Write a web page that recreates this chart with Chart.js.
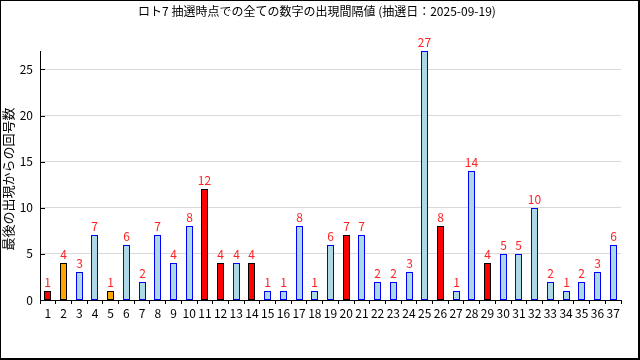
<!DOCTYPE html>
<html><head><meta charset="utf-8">
<script src="https://cdn.jsdelivr.net/npm/chart.js@4/dist/chart.umd.min.js"></script>
<style>html,body{margin:0;padding:0;background:#fff;}canvas{display:block;}</style>
</head><body>
<canvas id="c" width="640" height="360"></canvas>
<script>
const titleText = 'ロト7 抽選時点での全ての数字の出現間隔値 (抽選日：2025-09-19)';
const yTitle = '最後の出現からの回号数';
const categories = ['1','2','3','4','5','6','7','8','9','10','11','12','13','14','15','16','17','18','19','20','21','22','23','24','25','26','27','28','29','30','31','32','33','34','35','36','37'];
const values = [1,4,3,7,1,6,2,7,4,8,12,4,4,4,1,1,8,1,6,7,7,2,2,3,27,8,1,14,4,5,5,10,2,1,2,3,6];
// kind: m = main number drawn, b = bonus number, n = not drawn
const kinds = ['m','b','n','n','b','n','n','n','n','n','m','m','n','m','n','n','n','n','n','m','n','n','n','n','n','m','n','n','m','n','n','n','n','n','n','n','n'];

const fillFor = {m:'#ff0000', b:'#ffa500', n:'#add8e6'};
const edgeFor = {m:'#000000', b:'#000000', n:'#0000ff'};
const FONT = '"Noto Sans CJK JP", "DejaVu Sans", sans-serif';

const decor = {
  id:'decor',
  beforeDatasetsDraw(chart){
    // snap bars to whole pixels so their 1px outlines stay crisp
    chart.getDatasetMeta(0).data.forEach(bar=>{
      bar.x = Math.floor(bar.x) + 0.5;
      bar.width = 7;
      bar.y = Math.round(bar.y);
      bar.base = Math.round(bar.base);
    });
  },
  afterDatasetsDraw(chart){
    const ctx = chart.ctx;
    const meta = chart.getDatasetMeta(0);
    ctx.save();
    ctx.fillStyle = '#ff2222';
    ctx.font = '12px ' + FONT;
    ctx.textAlign = 'center';
    ctx.textBaseline = 'bottom';
    meta.data.forEach((bar,i)=>{
      ctx.fillText(String(values[i]), bar.x, bar.y - 3);
    });
    ctx.restore();
  },
  afterDraw(chart){
    const ctx = chart.ctx;
    const y = chart.scales.y;
    const a = chart.chartArea;
    ctx.save();
    ctx.strokeStyle = '#000';
    ctx.lineWidth = 1;
    y.ticks.forEach(t=>{
      const py = Math.round(y.getPixelForValue(t.value)) + 0.5;
      ctx.beginPath(); ctx.moveTo(a.left, py); ctx.lineTo(a.left + 5, py); ctx.stroke();
    });
    // title
    ctx.fillStyle = '#000';
    ctx.font = '12px ' + FONT;
    ctx.textAlign = 'center';
    ctx.textBaseline = 'middle';
    ctx.fillText(titleText, 317, 11);
    // y title
    ctx.save();
    ctx.translate(8, 179);
    ctx.rotate(-Math.PI/2);
    ctx.font = '13px ' + FONT;
    ctx.fillText(yTitle, 0, 0);
    ctx.restore();
    // frame
    ctx.fillRect(0,0,640,1);
    ctx.fillRect(0,0,1,360);
    ctx.fillRect(638,0,2,360);
    ctx.fillRect(0,358,640,2);
    ctx.restore();
  }
};

new Chart(document.getElementById('c'), {
  type:'bar',
  data:{
    labels: categories,
    datasets:[{
      data: values,
      backgroundColor: kinds.map(k=>fillFor[k]),
      borderColor: kinds.map(k=>edgeFor[k]),
      borderWidth: 1,
      borderSkipped: false,
      categoryPercentage: 1,
      barPercentage: 0.45
    }]
  },
  options:{
    responsive:false,
    animation:false,
    layout:{padding:{top:51,left:0,right:19,bottom:0}},
    plugins:{legend:{display:false},title:{display:false},tooltip:{enabled:false}},
    scales:{
      x:{
        grid:{drawOnChartArea:false, tickLength:4, tickColor:'#000', offset:true},
        border:{color:'#000', width:1},
        ticks:{color:'#000', font:{family:FONT, size:12}, padding:2, maxRotation:0, autoSkip:false},
        afterFit(s){ s.height = 60; }
      },
      y:{
        min:0, max:27,
        grid:{drawTicks:false, color:'#d9d9d9'},
        border:{color:'#000', width:1},
        ticks:{stepSize:5, color:'#000', font:{family:FONT, size:12}, padding:7},
        afterBuildTicks(s){ s.ticks = s.ticks.filter(t=>t.value % 5 === 0); },
        afterFit(s){ s.width = 40; }
      }
    }
  },
  plugins:[decor]
});
</script>
</body></html>
